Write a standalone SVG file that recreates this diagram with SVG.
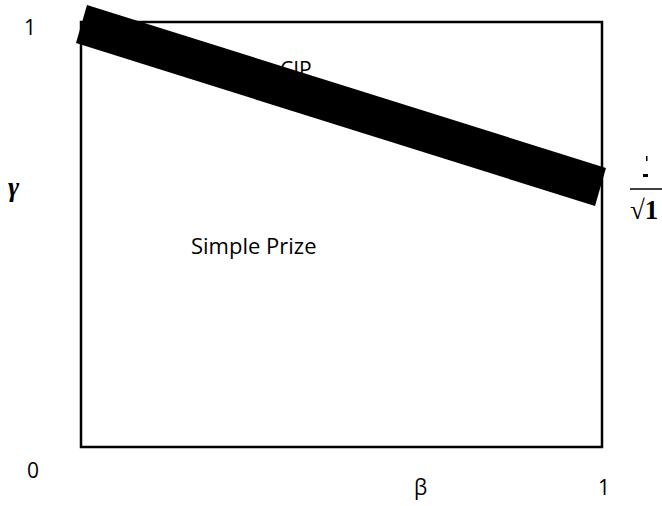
<svg xmlns="http://www.w3.org/2000/svg" width="662" height="506" viewBox="0 0 662 506">
<style>
.t{font-family:"Open Sans","Liberation Sans",sans-serif;fill:#000}
.m{font-family:"Liberation Serif","DejaVu Serif",serif;fill:#000}
</style>
<rect width="662" height="506" fill="#fff"/>
<g id="box"><rect x="81" y="22" width="521" height="425" fill="none" stroke="#000" stroke-width="2.5"/></g>
<g id="labels">
<text class="t" x="24" y="35" font-size="21">1</text>
<text class="t" x="27" y="478" font-size="21">0</text>
<text class="t" x="414" y="495" font-size="21">β</text>
<text class="t" x="598" y="495" font-size="21">1</text>
<text class="m" x="8" y="196" font-size="27" font-weight="bold" font-style="italic">γ</text>
<text class="t" x="191" y="254" font-size="22">Simple Prize</text>
<text class="t" x="280" y="77" font-size="21">CIP</text>
</g>
<g id="band"><polygon points="87,5 606,168 595,206 76,43" fill="#000"/></g>
<g id="fraction">
<rect x="646" y="156" width="1.5" height="5" fill="#000"/>
<rect x="643" y="174" width="5" height="3" fill="#000"/>
<line x1="630" y1="189" x2="662" y2="189" stroke="#000" stroke-width="1.5"/>
<text class="m" x="630" y="219" font-size="27" font-weight="bold">√1</text>
</g>
</svg>
